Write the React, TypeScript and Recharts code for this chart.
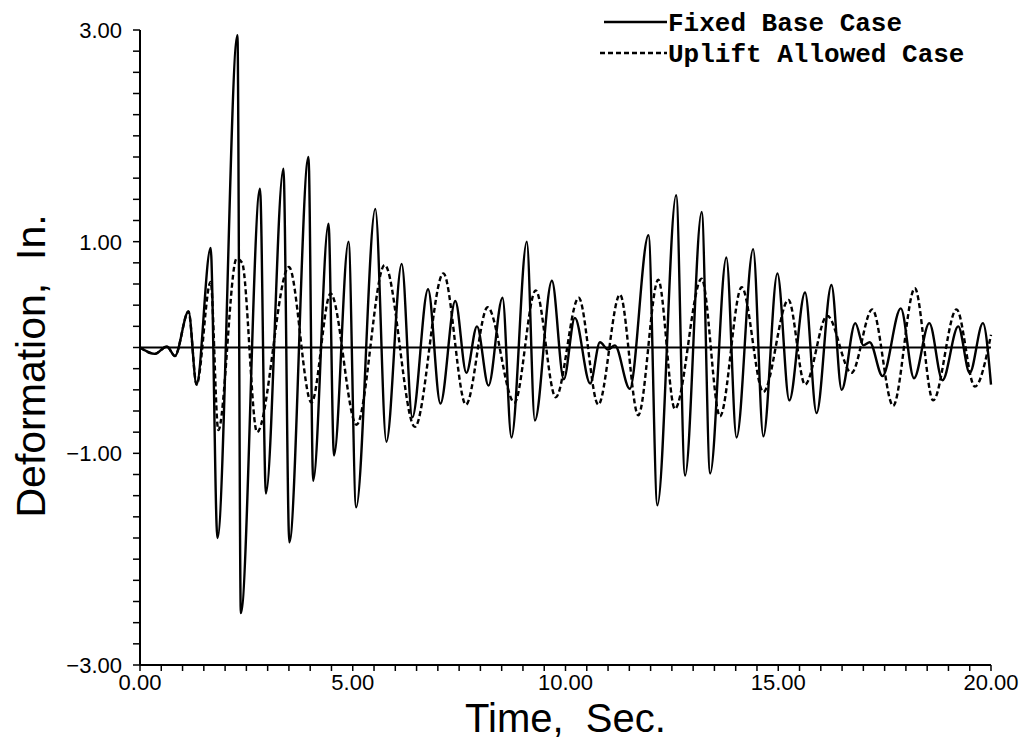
import { LineChart, Line, XAxis, YAxis, ReferenceLine, Legend } from "recharts";

// Fixed base response, read as successive peaks/troughs (sec, in.)
const fixedTime = [
  0, 0.35, 0.63, 0.82, 1.14, 1.33, 1.66, 1.82, 2.29, 2.37, 2.82, 2.96, 3.37, 3.51, 3.96, 4.07,
  4.43, 4.56, 4.9, 5.08, 5.53, 5.79, 6.15, 6.4, 6.77, 7.06, 7.41, 7.67, 7.92, 8.19, 8.52, 8.73,
  9.09, 9.28, 9.68, 9.96, 10.22, 10.58, 10.81, 11.0, 11.16, 11.51, 11.95, 12.16, 12.6, 12.81,
  13.2, 13.4, 13.78, 14.02, 14.41, 14.65, 14.98, 15.26, 15.63, 15.9, 16.25, 16.49, 16.81, 17.0,
  17.15, 17.45, 17.88, 18.19, 18.55, 18.86, 19.23, 19.5, 19.81, 20.0,
];
const fixedDefl = [
  0, -0.06, 0.01, -0.08, 0.34, -0.35, 0.94, -1.8, 2.95, -2.51, 1.5, -1.38, 1.69, -1.84, 1.8, -1.26,
  1.17, -1.02, 1.0, -1.51, 1.31, -0.89, 0.79, -0.66, 0.55, -0.53, 0.44, -0.24, 0.2, -0.36, 0.47, -0.85,
  1.0, -0.69, 0.63, -0.3, 0.28, -0.34, 0.05, -0.02, 0.02, -0.39, 1.06, -1.49, 1.44, -1.21,
  1.28, -1.19, 0.85, -0.85, 0.93, -0.84, 0.7, -0.5, 0.52, -0.62, 0.59, -0.4, 0.23, 0.02,
  0.05, -0.27, 0.37, -0.29, 0.23, -0.31, 0.2, -0.24, 0.23, -0.35,
];

// Uplift allowed response
const upliftTime = [
  0, 0.35, 0.63, 0.82, 1.14, 1.33, 1.66, 1.84, 2.27, 2.4, 2.75, 3.5, 4.03, 4.48, 5.09, 5.75,
  6.46, 7.13, 7.66, 8.17, 8.8, 9.3, 9.77, 10.31, 10.77, 11.28, 11.71, 12.18, 12.57, 13.2,
  13.63, 14.14, 14.65, 15.24, 15.63, 16.15, 16.72, 17.21, 17.7, 18.21, 18.64, 19.19, 19.62, 20.0,
];
const upliftDefl = [
  0, -0.06, 0.01, -0.08, 0.34, -0.35, 0.62, -0.78, 0.84, 0.8, -0.8, 0.76, -0.52, 0.51, -0.73, 0.78,
  -0.75, 0.7, -0.54, 0.38, -0.52, 0.54, -0.47, 0.47, -0.54, 0.5, -0.64, 0.64, -0.58, 0.65,
  -0.65, 0.57, -0.42, 0.45, -0.35, 0.3, -0.24, 0.36, -0.55, 0.56, -0.5, 0.36, -0.37, 0.12,
];

const xTicks = [
  0, 0.5, 1, 1.5, 2, 2.5, 3, 3.5, 4, 4.5, 5, 5.5, 6, 6.5, 7, 7.5, 8, 8.5, 9, 9.5, 10,
  10.5, 11, 11.5, 12, 12.5, 13, 13.5, 14, 14.5, 15, 15.5, 16, 16.5, 17, 17.5, 18, 18.5, 19, 19.5, 20,
];
const xLabeled = [0, 5, 10, 15, 20];
const yTicks = [
  -3, -2.8, -2.6, -2.4, -2.2, -2, -1.8, -1.6, -1.4, -1.2, -1, -0.8, -0.6, -0.4, -0.2, 0,
  0.2, 0.4, 0.6, 0.8, 1, 1.2, 1.4, 1.6, 1.8, 2, 2.2, 2.4, 2.6, 2.8, 3,
];
const yLabeled = [-3, -1, 1, 3];

const fixedData = fixedTime.map((t, i) => ({ t, v: fixedDefl[i] }));
const upliftData = upliftTime.map((t, i) => ({ t, v: upliftDefl[i] }));

const tickFont = "'Liberation Sans', Arial, sans-serif";
const monoFont = "'Liberation Mono', 'Courier New', monospace";
const fmt = (v: number) => (v < 0 ? "\u2212" : "") + Math.abs(v).toFixed(2);

const YTick = ({ x, y, payload }: any) =>
  yLabeled.includes(payload.value) ? (
    <text x={x} y={y} textAnchor="end" dy="0.36em" fontSize={22} fontFamily={tickFont} fill="#000">
      {fmt(payload.value)}
    </text>
  ) : (
    <g />
  );

const XTick = ({ x, y, payload }: any) =>
  xLabeled.includes(payload.value) ? (
    <text x={x} y={y} textAnchor="middle" dy="0.72em" fontSize={22} fontFamily={tickFont} fill="#000">
      {fmt(payload.value)}
    </text>
  ) : (
    <g />
  );

const LegendBox = () => (
  <svg width={1024} height={70} style={{ display: "block" }}>
    <line x1={604} y1={22} x2={667} y2={22} stroke="#000" strokeWidth={2.4} />
    <line x1={600} y1={53} x2={667} y2={53} stroke="#000" strokeWidth={2.4} strokeDasharray="5 3" />
    <text x={668} y={31} fontSize={26} fontWeight="bold" fontFamily={monoFont} fill="#000">
      Fixed Base Case
    </text>
    <text x={668} y={62} fontSize={26} fontWeight="bold" fontFamily={monoFont} fill="#000">
      Uplift Allowed Case
    </text>
  </svg>
);

export default function App() {
  return (
    <div style={{ width: 1024, height: 743, position: "relative" }}>
      <style>{"body{margin:0}"}</style>
      <LineChart width={1024} height={743} margin={{ top: 30, right: 33, bottom: 0, left: 0 }}>
        <XAxis
          type="number"
          dataKey="t"
          domain={[0, 20]}
          ticks={xTicks}
          interval={0}
          height={78}
          tick={<XTick />}
          tickSize={6}
          tickMargin={3}
          axisLine={{ stroke: "#000", strokeWidth: 2 }}
          tickLine={{ stroke: "#000", strokeWidth: 1.5 }}
          label={{
            value: "Time,\u00a0\u00a0Sec.",
            position: "insideBottom",
            offset: 11,
            fontSize: 40,
            fontFamily: tickFont,
            fill: "#000",
          }}
        />
        <YAxis
          type="number"
          domain={[-3, 3]}
          ticks={yTicks}
          interval={0}
          width={140}
          tick={<YTick />}
          tickSize={7}
          tickMargin={11}
          axisLine={{ stroke: "#000", strokeWidth: 2 }}
          tickLine={{ stroke: "#000", strokeWidth: 1.5 }}
          label={{
            value: "Deformation,\u00a0\u00a0In.",
            angle: -90,
            position: "insideLeft",
            offset: 30,
            dy: 170,
            fontSize: 41,
            fontFamily: tickFont,
            fill: "#000",
          }}
        />
        <ReferenceLine y={0} stroke="#000" strokeWidth={2} />
        <Line
          data={fixedData}
          dataKey="v"
          type="monotone"
          dot={false}
          stroke="#000"
          strokeWidth={2.4}
          isAnimationActive={false}
        />
        <Line
          data={upliftData}
          dataKey="v"
          type="monotone"
          dot={false}
          stroke="#000"
          strokeWidth={2.4}
          strokeDasharray="5 3"
          isAnimationActive={false}
        />
        <Legend
          layout="horizontal"
          verticalAlign="middle"
          align="center"
          wrapperStyle={{ position: "absolute", top: 0, left: 0, width: 1024, height: 70 }}
          content={() => <LegendBox />}
        />
      </LineChart>
    </div>
  );
}
